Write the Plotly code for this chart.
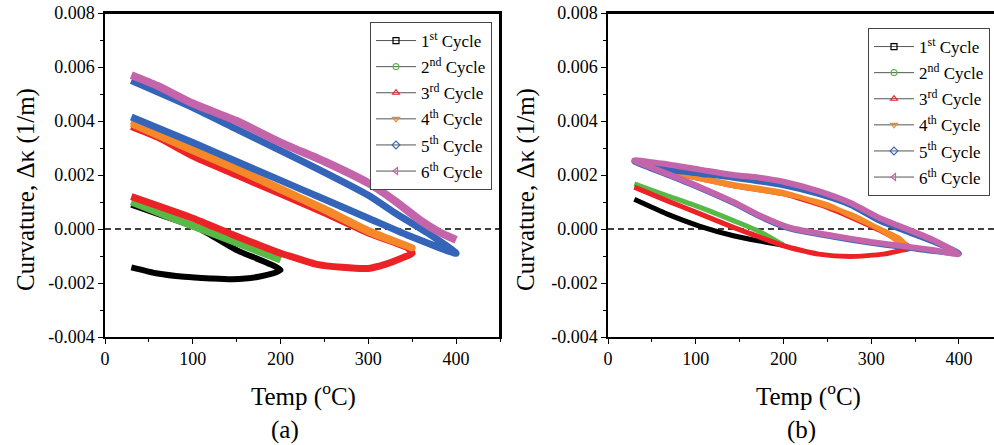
import plotly.graph_objects as go

# ---------------- data ----------------
cycle_names = ["1<sup>st</sup> Cycle", "2<sup>nd</sup> Cycle", "3<sup>rd</sup> Cycle",
               "4<sup>th</sup> Cycle", "5<sup>th</sup> Cycle", "6<sup>th</sup> Cycle"]
colors = ["#000000", "#58b947", "#ec2227", "#f5892a", "#3465b8", "#c464aa"]
symbols = ["square-open", "circle-open", "triangle-up-open", "triangle-down-open",
           "diamond-open", "triangle-left-open"]

x_ticks = [0, 100, 200, 300, 400]
x_ticklabels = ["0", "100", "200", "300", "400"]
y_ticks = [-0.004, -0.002, 0.0, 0.002, 0.004, 0.006, 0.008]
y_ticklabels = ["-0.004", "-0.002", "0.000", "0.002", "0.004", "0.006", "0.008"]

# ---- panel (a) ----
a1_T = [30, 60, 90, 120, 145, 175, 200, 150, 108, 70, 30]
a1_K = [-0.00142, -0.00165, -0.00177, -0.00183, -0.00186, -0.00177, -0.00152,
        -0.00078, 0.0, 0.00045, 0.0009]
a2_T = [30, 70, 110, 150, 200, 150, 110, 70, 30]
a2_K = [0.00101, 0.0005, 0.0, -0.0005, -0.00115, -0.00052, -0.00002, 0.00048, 0.001]
a3_T = [30, 100, 145, 200, 215, 240, 270, 300, 320, 340, 350, 345, 300, 250, 200, 150, 100, 60, 30]
a3_K = [0.0012, 0.0004, -0.0002, -0.0009, -0.00105, -0.0013, -0.00142, -0.00146, -0.0013,
        -0.00105, -0.0009, -0.0007, -0.00015, 0.0006, 0.0013, 0.002, 0.0027, 0.0034, 0.0038]
a4_T = [30, 100, 150, 200, 250, 300, 350, 300, 250, 200, 150, 100, 30]
a4_K = [0.0039, 0.0029, 0.0022, 0.00145, 0.0007, -0.0001, -0.0007,
        -0.00005, 0.00075, 0.0015, 0.00225, 0.003, 0.004]
a5_T = [30, 100, 150, 200, 250, 300, 350, 400, 370, 330, 300, 250, 200, 150, 100, 30]
a5_K = [0.00415, 0.0032, 0.0025, 0.0018, 0.0011, 0.0004, -0.0003, -0.0009,
        -0.0002, 0.0006, 0.00125, 0.0021, 0.0029, 0.0037, 0.0045, 0.0055]
a6_T = [30, 60, 100, 150, 200, 250, 300, 330, 360, 380, 400]
a6_K = [0.0057, 0.0053, 0.00465, 0.004, 0.0032, 0.0025, 0.0017, 0.00105, 0.0003, -0.0001, -0.0004]

# ---- panel (b) ----
b1_T = [30, 67, 105, 143, 173, 200, 173, 143, 105, 67, 30]
b1_K = [0.0011, 0.00056, 0.0001, -0.00025, -0.00045, -0.0006,
        -0.00045, -0.00025, 0.0001, 0.00056, 0.0011]
b2_T = [30, 67, 105, 143, 173, 200, 173, 143, 105, 67, 30]
b2_K = [0.00167, 0.00124, 0.0008, 0.00031, -0.0001, -0.0006,
        -0.0001, 0.00031, 0.0008, 0.00124, 0.00167]
b3_T = [30, 67, 105, 143, 173, 200, 240, 276, 314, 333, 345, 310, 276, 250, 200, 143, 100, 67, 30]
b3_K = [0.00155, 0.00105, 0.00056, 0.00006, -0.0003, -0.00062, -0.00093, -0.00102, -0.00093,
        -0.0008, -0.0007, -0.00005, 0.00045, 0.0008, 0.0013, 0.0016, 0.0019, 0.0021, 0.0025]
b4_T = [30, 67, 100, 143, 200, 250, 276, 314, 333, 342, 314, 276, 200, 143, 67, 30]
b4_K = [0.0025, 0.00215, 0.0019, 0.0016, 0.0013, 0.0009, 0.0005, -0.00006, -0.00037, -0.0007,
        -0.0001, 0.00055, 0.00135, 0.00165, 0.0022, 0.0025]
b5_T = [30, 67, 105, 143, 200, 240, 276, 310, 333, 370, 400,
        370, 333, 300, 256, 207, 173, 143, 105, 67, 30]
b5_K = [0.0025, 0.0022, 0.00205, 0.0019, 0.00162, 0.0013, 0.0009, 0.0003, 0.0, -0.00045, -0.0009,
        -0.00081, -0.00065, -0.00051, -0.00028, 0.00002, 0.00047, 0.00097, 0.00152, 0.00202, 0.0025]
b6_T = [30, 67, 105, 143, 173, 200, 240, 276, 310, 333, 370, 400,
        370, 333, 300, 256, 207, 173, 143, 105, 67, 30]
b6_K = [0.00254, 0.0024, 0.0022, 0.002, 0.0019, 0.00175, 0.0014, 0.00097, 0.0004, 0.0001, -0.0004, -0.00093,
        -0.00078, -0.00062, -0.00048, -0.00025, 0.00005, 0.0005, 0.001, 0.00155, 0.00205, 0.00254]

panel_a = [(a1_T, a1_K), (a2_T, a2_K), (a3_T, a3_K), (a4_T, a4_K), (a5_T, a5_K), (a6_T, a6_K)]
panel_b = [(b1_T, b1_K), (b2_T, b2_K), (b3_T, b3_K), (b4_T, b4_K), (b5_T, b5_K), (b6_T, b6_K)]

# ---------------- figure ----------------
FONT = "Liberation Serif"
W, H = 994, 445


def px(xp):
    return xp / W


def py(yp):
    return 1 - yp / H


fig = go.Figure()

width_a = [6, 7, 7, 7, 7, 8]
width_b = [5, 5, 5, 5, 6, 6]

for i, (T, K) in enumerate(panel_a):
    fig.add_trace(go.Scatter(x=T, y=K, mode="lines", line=dict(color=colors[i], width=width_a[i], shape="spline", smoothing=0.6),
                             showlegend=False, hoverinfo="skip", xaxis="x", yaxis="y"))
for i, (T, K) in enumerate(panel_b):
    fig.add_trace(go.Scatter(x=T, y=K, mode="lines", line=dict(color=colors[i], width=width_b[i], shape="spline", smoothing=0.6),
                             showlegend=False, hoverinfo="skip", xaxis="x2", yaxis="y2"))

# legend entries
for leg, xa, ya in [("legend", "x", "y"), ("legend2", "x2", "y2")]:
    for i in range(6):
        fig.add_trace(go.Scatter(x=[None], y=[None], mode="lines+markers", name=cycle_names[i],
                                 line=dict(color="#555555", width=1),
                                 marker=dict(symbol=symbols[i], color=colors[i], size=6, line=dict(width=1.2, color=colors[i])),
                                 legend=leg, legendgroup=leg + str(i), xaxis=xa, yaxis=ya))

xd1 = [px(105), px(500)]
xd2 = [px(608), 1.0]
yd = [py(337), py(13)]

axis_common = dict(showline=True, linecolor="black", linewidth=1.5, mirror=True, ticks="outside",
                   ticklen=5, tickwidth=1.3, tickcolor="black", showgrid=False, zeroline=False,
                   automargin=False, ticklabeloverflow="allow",
                   tickfont=dict(family=FONT, size=18, color="black"))
xaxis_common = dict(axis_common, range=[0, 450], tickvals=x_ticks, ticktext=x_ticklabels,
                    minor=dict(dtick=50, tick0=0, ticks="outside", ticklen=3, tickcolor="black", tickwidth=1))
yaxis_common = dict(axis_common, range=[-0.004, 0.008], tickvals=y_ticks, ticktext=y_ticklabels,
                    minor=dict(dtick=0.001, tick0=0, ticks="outside", ticklen=3, tickcolor="black", tickwidth=1))

legend_common = dict(font=dict(family=FONT, size=17, color="black"), bgcolor="white",
                     bordercolor="#444444", borderwidth=1, xanchor="left", yanchor="top",
                     traceorder="grouped", tracegroupgap=1, itemwidth=40)

TITLE = dict(family=FONT, size=25, color="black")

frame = dict(color="black", width=2)
fig.update_layout(
    width=W, height=H,
    font=dict(family=FONT, color="black"),
    margin=dict(l=0, r=0, t=0, b=0, pad=0, autoexpand=False),
    paper_bgcolor="white", plot_bgcolor="white",
    xaxis=dict(xaxis_common, domain=xd1, anchor="y"),
    yaxis=dict(yaxis_common, domain=yd, anchor="x"),
    xaxis2=dict(xaxis_common, domain=xd2, anchor="y2", range=[0, 440]),
    yaxis2=dict(yaxis_common, domain=yd, anchor="x2"),
    legend=dict(legend_common, x=px(370), y=py(22)),
    legend2=dict(legend_common, x=px(868), y=py(28)),
    shapes=[
        dict(type="line", xref="x domain", yref="y", x0=0, x1=1, y0=0, y1=0,
             line=dict(color="black", width=1.5, dash="6px,4px"), layer="below"),
        dict(type="line", xref="x2 domain", yref="y2", x0=0, x1=1, y0=0, y1=0,
             line=dict(color="black", width=1.5, dash="6px,4px"), layer="below"),
        # top edges of the plot frames, paper-referenced so they are not clipped
        dict(type="line", xref="paper", yref="paper", x0=xd1[0], x1=xd1[1], y0=yd[1], y1=yd[1],
             line=frame, layer="above"),
        dict(type="line", xref="paper", yref="paper", x0=xd1[1], x1=xd1[1], y0=yd[0], y1=yd[1],
             line=frame, layer="above"),
        dict(type="line", xref="paper", yref="paper", x0=xd2[0], x1=1.0, y0=yd[1], y1=yd[1],
             line=frame, layer="above"),
    ],
    annotations=[
        dict(text="Curvature, \u0394\u03ba (1/m)", x=px(26), y=py(190), xref="paper", yref="paper",
             xanchor="center", yanchor="middle",
             textangle=-90, showarrow=False, font=TITLE),
        dict(text="Curvature, \u0394\u03ba (1/m)", x=px(526), y=py(190), xref="paper", yref="paper",
             xanchor="center", yanchor="middle",
             textangle=-90, showarrow=False, font=TITLE),
        dict(text="Temp (<sup>o</sup>C)", x=px(303), y=py(394), xref="paper", yref="paper",
             xanchor="center", yanchor="middle",
             showarrow=False, font=TITLE),
        dict(text="Temp (<sup>o</sup>C)", x=px(808), y=py(394), xref="paper", yref="paper",
             xanchor="center", yanchor="middle",
             showarrow=False, font=TITLE),
        dict(text="(a)", x=px(285), y=py(430), xref="paper", yref="paper",
             xanchor="center", yanchor="middle",
             showarrow=False, font=TITLE),
        dict(text="(b)", x=px(801), y=py(430), xref="paper", yref="paper",
             xanchor="center", yanchor="middle",
             showarrow=False, font=TITLE),
    ],
)

# remove the browser's default 8px page margin so the figure fills the window exactly
fig.write_html("out.html", config={"displayModeBar": False},
               post_script="document.body.style.margin='0px';document.body.style.overflow='hidden';")
